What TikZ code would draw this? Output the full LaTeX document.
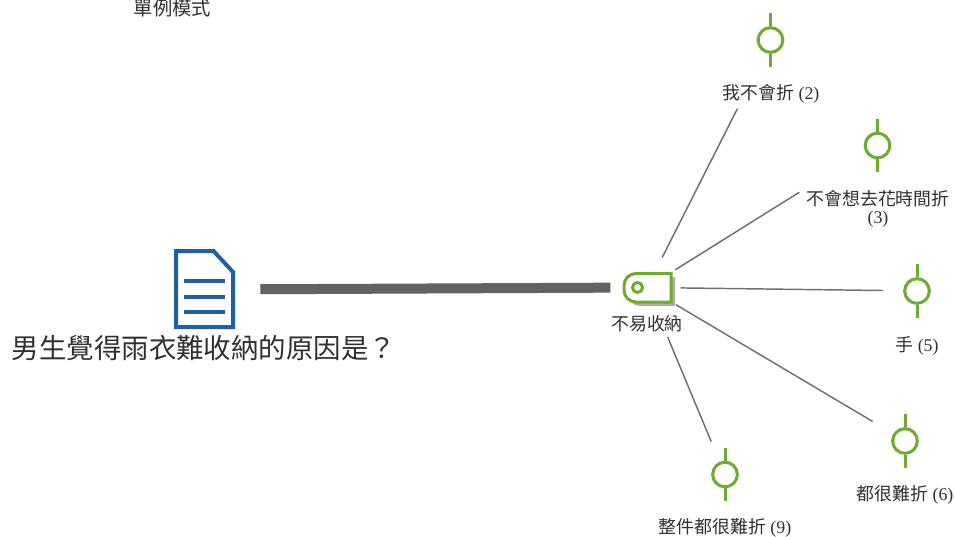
\documentclass[tikz,border=0pt]{standalone}
\usepackage{fontspec}
\setmainfont{Liberation Serif}
\newfontfamily\cjk{Noto Sans CJK TC}
\usetikzlibrary{calc}
\definecolor{leafgreen}{HTML}{6EAB2E}
\definecolor{docblue}{HTML}{1F5FA8}
\definecolor{linegray}{HTML}{707070}
\definecolor{bargray}{HTML}{626262}
\definecolor{txt}{HTML}{303030}
\tikzset{
  x=0.75pt,y=-0.75pt,
  leaflabel/.style={font=\fontsize{13.4pt}{14pt}\selectfont,text=txt,inner sep=0pt,align=center},
  leafmark/.style={circle,draw=leafgreen,line width=2.25pt,minimum size=18.5pt,inner sep=0pt,
    append after command={
      (\tikzlastnode.north) edge[leafstem] ++(0,-13)
      (\tikzlastnode.south) edge[leafstem] ++(0,13)}},
  leafstem/.style={draw=leafgreen,line width=2.25pt},
  link/.style={draw=linegray,line width=1.1pt},
  bar/.style={draw=bargray,line width=7.5pt},
  hubzone/.style={circle,minimum size=50pt,inner sep=0pt},
  docline/.style={draw=docblue,line width=3pt},
}
\begin{document}
\begin{tikzpicture}
\useasboundingbox (0,0) rectangle (954,536);
% document icon
\node[minimum width=45pt,minimum height=60pt,inner sep=0pt] (doc) at (205,289.5) {};
\draw[docblue,line width=3pt,line join=miter] (176,251) -- (213.5,251) -- (233,272) -- (233,327) -- (176,327) -- cycle;
\draw[docline] (184,281) -- (225,281);
\draw[docline] (184,296.5) -- (225,296.5);
\draw[docline] (184,312) -- (225,312);
% hub
\node[hubzone] (hub) at (647,287.5) {};
\fill[black!32] (675,277) [rounded corners=9pt] -- (628,277) -- (628,306) [sharp corners] -- (675,306) -- cycle;
\draw[leafgreen,line width=2.25pt,fill=white] (671,273.5) [rounded corners=9pt] -- (624,273.5) -- (624,302) [sharp corners] -- (671,302) -- cycle;
\draw[leafgreen,line width=2.25pt] (637.5,287.5) circle (5);
% labels
\node[font=\cjk\fontsize{14.5pt}{15pt}\selectfont,text=txt,inner sep=0pt] (title) at (172.5,8.5) {單例模式};
\node[font=\cjk\fontsize{20.6pt}{21pt}\selectfont,text=txt,inner sep=0pt] (question) at (204,348) {男生覺得雨衣難收納的原因是？};
\node[leaflabel] (hublab) at (647,324) {\cjk 不易收納};
\node[leaflabel] (lab1) at (771,94) {\cjk 我不會折\rm\ (2)};
\node[leaflabel] (lab2) at (878,209) {\cjk 不會想去花時間折\\[-0.5pt]\rm(3)};
\node[leaflabel] (lab3) at (917,346) {\cjk 手\rm\ (5)};
\node[leaflabel] (lab4) at (905,495) {\cjk 都很難折\rm\ (6)};
\node[leaflabel] (lab5) at (725,527.5) {\cjk 整件都很難折\rm\ (9)};
% markers
\node[leafmark] (m1) at (770.5,40) {};
\node[leafmark] (m2) at (877.5,145.5) {};
\node[leafmark] (m3) at (917,291) {};
\node[leafmark] (m4) at (905,441) {};
\node[leafmark] (m5) at (725,474.5) {};
% connector ends
\coordinate (e1) at ($(lab1.south west)+(15,5)$);
\coordinate (e2) at ($(lab2.north west)+(-7,2)$);
\coordinate (e3) at ($(m3.west)+(-20,-0.5)$);
\coordinate (e4) at ($(m4.west)+(-18.5,-19.5)$);
\coordinate (e5) at ($(m5.west)+(0,-33)$);
% connectors
\draw[bar,shorten <=25pt*0.75,shorten >=2.25pt] (doc) -- (hub);
\draw[link] (hub) -- (e1);
\draw[link] (hub) -- (e2);
\draw[link] (hub) -- (e3);
\draw[link] (hub) -- (e4);
\draw[link,shorten <=15pt] (hub) -- (e5);
\end{tikzpicture}
\end{document}
